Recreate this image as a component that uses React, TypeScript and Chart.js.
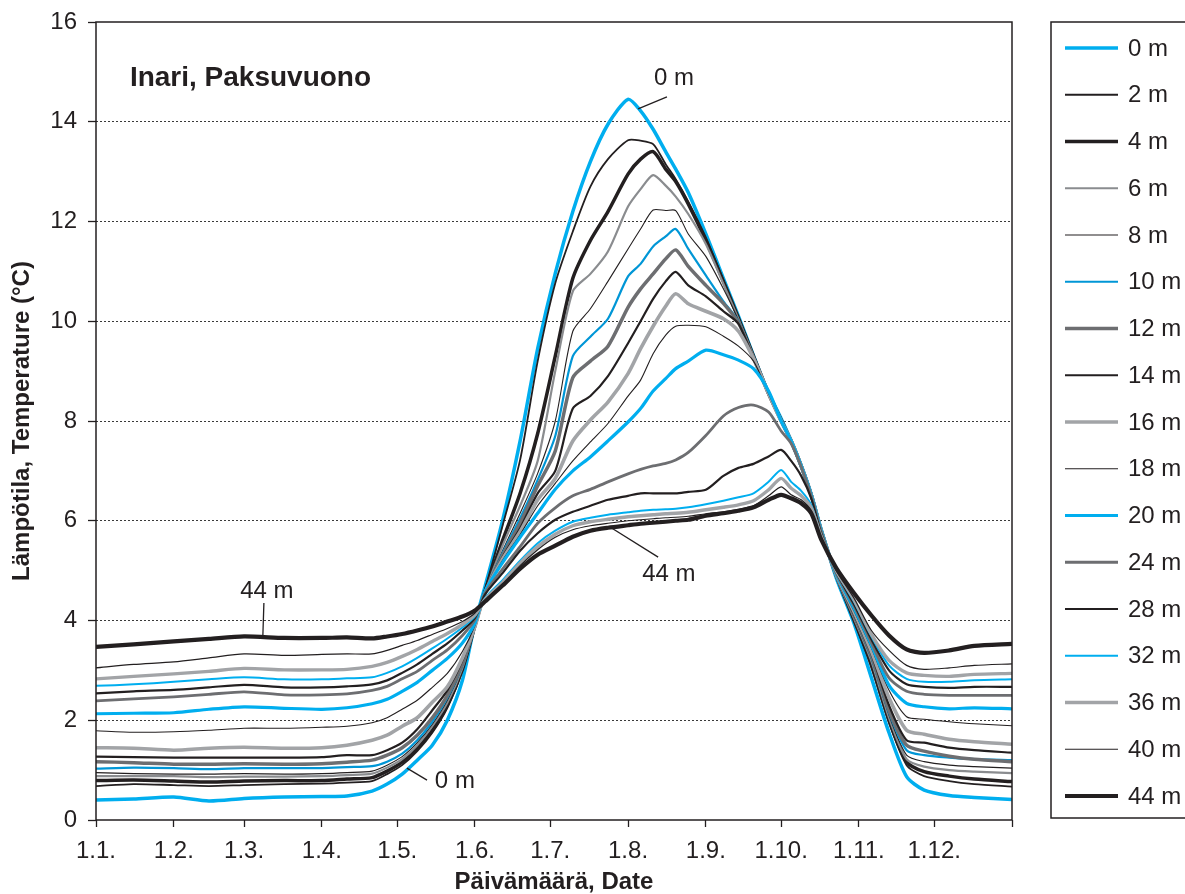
import { useEffect, useRef } from 'react';
import { Chart, registerables } from 'chart.js';

Chart.register(...registerables);

const FONT = '"Liberation Sans", Arial, Helvetica, sans-serif';
const INK = '#231F20';

// day of year (0 = 1 Jan)
const days = [0, 15, 31, 45, 59, 75, 90, 100, 110, 116, 122, 128, 134, 140, 146, 151, 155, 162, 169, 176, 183, 190, 197, 204, 212, 217, 222, 227, 231, 236, 243, 250, 256, 262, 268, 273, 277, 281, 285, 289, 295, 302, 309, 316, 323, 330, 340, 350, 365];

const monthStarts = [0, 31, 59, 90, 120, 151, 181, 212, 243, 273, 304, 334, 365];
const monthLabels = ['1.1.', '1.2.', '1.3.', '1.4.', '1.5.', '1.6.', '1.7.', '1.8.', '1.9.', '1.10.', '1.11.', '1.12.', ''];
const yTicks = [0, 2, 4, 6, 8, 10, 12, 14, 16];

const depthLabels = ['0 m', '2 m', '4 m', '6 m', '8 m', '10 m', '12 m', '14 m', '16 m', '18 m', '20 m', '24 m', '28 m', '32 m', '36 m', '40 m', '44 m'];

const t0 = [0.40, 0.42, 0.46, 0.38, 0.43, 0.46, 0.47, 0.48, 0.58, 0.72, 0.92, 1.2, 1.5, 2.0, 2.8, 3.95, 4.68, 6.0, 7.6, 9.45, 10.96, 12.2, 13.2, 13.95, 14.45, 14.22, 13.85, 13.4, 13.05, 12.58, 11.75, 10.86, 10.1, 9.31, 8.56, 8.05, 7.6, 7.1, 6.52, 5.82, 4.85, 3.95, 2.85, 1.75, 0.87, 0.6, 0.49, 0.45, 0.41];
const t2 = [0.68, 0.72, 0.70, 0.68, 0.70, 0.72, 0.73, 0.75, 0.78, 0.92, 1.1, 1.38, 1.75, 2.25, 3.0, 3.9, 4.62, 5.9, 7.22, 9.2, 10.76, 11.8, 12.7, 13.25, 13.63, 13.62, 13.55, 13.15, 12.85, 12.4, 11.68, 10.82, 10.08, 9.3, 8.55, 8.03, 7.6, 7.1, 6.52, 5.8, 4.88, 4.0, 3.05, 1.95, 1.1, 0.88, 0.78, 0.72, 0.67];
const t4 = [0.79, 0.80, 0.78, 0.76, 0.78, 0.79, 0.79, 0.82, 0.85, 0.98, 1.16, 1.44, 1.8, 2.3, 3.02, 3.9, 4.58, 5.6, 6.55, 7.75, 9.3, 10.86, 11.62, 12.2, 12.95, 13.25, 13.4, 13.05, 12.8, 12.35, 11.62, 10.8, 10.06, 9.3, 8.55, 8.02, 7.6, 7.1, 6.52, 5.8, 4.9, 4.02, 3.12, 2.0, 1.17, 0.97, 0.88, 0.82, 0.77];
const t6 = [0.88, 0.88, 0.88, 0.86, 0.87, 0.87, 0.88, 0.90, 0.93, 1.05, 1.22, 1.5, 1.88, 2.35, 3.05, 3.9, 4.56, 5.5, 6.3, 7.2, 9.0, 10.6, 10.95, 11.4, 12.3, 12.65, 12.93, 12.72, 12.5, 12.15, 11.55, 10.75, 10.04, 9.3, 8.55, 8.02, 7.6, 7.1, 6.52, 5.8, 4.88, 4.05, 3.18, 2.05, 1.22, 1.07, 1.0, 0.97, 0.94];
const t8 = [0.95, 0.93, 0.92, 0.92, 0.93, 0.92, 0.93, 0.95, 0.98, 1.1, 1.27, 1.55, 1.92, 2.4, 3.08, 3.9, 4.55, 5.4, 6.15, 6.95, 8.0, 9.8, 10.25, 10.8, 11.45, 11.85, 12.23, 12.22, 12.22, 11.75, 11.3, 10.65, 10.02, 9.28, 8.55, 8.0, 7.6, 7.1, 6.52, 5.8, 4.9, 4.07, 3.22, 2.1, 1.3, 1.17, 1.1, 1.07, 1.04];
const t10 = [1.03, 1.05, 1.04, 1.02, 1.04, 1.04, 1.04, 1.06, 1.08, 1.17, 1.33, 1.6, 1.97, 2.45, 3.1, 3.9, 4.55, 5.35, 6.05, 6.82, 7.7, 9.3, 9.69, 10.05, 10.9, 11.15, 11.5, 11.7, 11.85, 11.45, 10.92, 10.4, 10.0, 9.27, 8.55, 8.0, 7.6, 7.1, 6.52, 5.8, 4.88, 4.1, 3.25, 2.15, 1.4, 1.3, 1.25, 1.22, 1.2];
const t12 = [1.17, 1.15, 1.12, 1.12, 1.13, 1.12, 1.13, 1.16, 1.2, 1.3, 1.45, 1.7, 2.05, 2.5, 3.13, 3.9, 4.54, 5.3, 5.95, 6.7, 7.4, 8.87, 9.2, 9.5, 10.28, 10.65, 10.95, 11.25, 11.43, 11.1, 10.72, 10.36, 9.97, 9.26, 8.55, 8.0, 7.6, 7.1, 6.52, 5.8, 4.9, 4.12, 3.3, 2.2, 1.5, 1.38, 1.28, 1.22, 1.17];
const t14 = [1.27, 1.26, 1.25, 1.25, 1.25, 1.25, 1.26, 1.3, 1.3, 1.4, 1.55, 1.82, 2.2, 2.6, 3.2, 3.92, 4.54, 5.27, 5.85, 6.55, 7.0, 8.25, 8.5, 8.9, 9.56, 10.0, 10.45, 10.8, 10.99, 10.72, 10.5, 10.2, 9.95, 9.25, 8.55, 8.0, 7.6, 7.1, 6.52, 5.8, 4.9, 4.13, 3.33, 2.3, 1.6, 1.55, 1.45, 1.4, 1.35];
const t16 = [1.45, 1.44, 1.40, 1.44, 1.46, 1.44, 1.45, 1.5, 1.6, 1.7, 1.88, 2.05, 2.36, 2.67, 3.25, 3.88, 4.55, 5.23, 5.78, 6.42, 6.85, 7.6, 8.02, 8.38, 8.95, 9.45, 9.9, 10.3, 10.55, 10.35, 10.2, 10.05, 9.8, 9.25, 8.55, 8.0, 7.6, 7.1, 6.52, 5.8, 4.92, 4.18, 3.38, 2.45, 1.8, 1.72, 1.62, 1.57, 1.52];
const t18 = [1.79, 1.76, 1.77, 1.80, 1.84, 1.84, 1.86, 1.88, 1.95, 2.05, 2.22, 2.4, 2.66, 2.94, 3.38, 3.9, 4.56, 5.2, 5.72, 6.3, 6.75, 7.2, 7.58, 7.95, 8.5, 8.82, 9.35, 9.72, 9.9, 9.92, 9.89, 9.7, 9.5, 9.2, 8.55, 8.0, 7.6, 7.1, 6.52, 5.8, 4.92, 4.2, 3.45, 2.6, 2.07, 2.02, 1.97, 1.93, 1.89];
const t20 = [2.13, 2.14, 2.15, 2.22, 2.27, 2.24, 2.22, 2.25, 2.33, 2.42, 2.58, 2.76, 3.0, 3.24, 3.55, 3.95, 4.58, 5.16, 5.67, 6.15, 6.63, 7.0, 7.28, 7.6, 7.98, 8.25, 8.6, 8.85, 9.05, 9.2, 9.42, 9.33, 9.22, 9.05, 8.6, 8.0, 7.6, 7.1, 6.52, 5.8, 4.93, 4.25, 3.5, 2.7, 2.34, 2.27, 2.23, 2.25, 2.23];
const t24 = [2.39, 2.43, 2.47, 2.52, 2.57, 2.51, 2.51, 2.53, 2.6, 2.68, 2.83, 2.98, 3.2, 3.41, 3.7, 4.02, 4.55, 5.03, 5.48, 5.95, 6.26, 6.5, 6.63, 6.78, 6.94, 7.03, 7.1, 7.15, 7.22, 7.37, 7.71, 8.1, 8.27, 8.32, 8.18, 7.8, 7.55, 7.08, 6.5, 5.78, 4.95, 4.3, 3.55, 2.85, 2.58, 2.52, 2.5, 2.5, 2.5];
const t28 = [2.54, 2.58, 2.61, 2.66, 2.71, 2.66, 2.66, 2.68, 2.72, 2.8, 2.95, 3.12, 3.33, 3.54, 3.8, 4.05, 4.52, 4.95, 5.4, 5.75, 6.02, 6.18, 6.3, 6.42, 6.5, 6.55, 6.55, 6.55, 6.55, 6.58, 6.62, 6.9, 7.06, 7.14, 7.29, 7.42, 7.2, 6.9, 6.45, 5.74, 4.97, 4.33, 3.62, 3.0, 2.72, 2.67, 2.65, 2.67, 2.67];
const t32 = [2.69, 2.72, 2.77, 2.82, 2.86, 2.82, 2.82, 2.84, 2.86, 2.95, 3.08, 3.25, 3.44, 3.64, 3.86, 4.08, 4.45, 4.81, 5.2, 5.55, 5.8, 5.98, 6.06, 6.12, 6.17, 6.2, 6.22, 6.23, 6.24, 6.27, 6.33, 6.4, 6.47, 6.55, 6.78, 7.02, 6.78, 6.6, 6.32, 5.7, 4.98, 4.38, 3.68, 3.1, 2.83, 2.77, 2.77, 2.8, 2.82];
const t36 = [2.83, 2.88, 2.93, 2.98, 3.04, 3.01, 3.01, 3.02, 3.08, 3.16, 3.28, 3.42, 3.58, 3.74, 3.92, 4.12, 4.42, 4.76, 5.15, 5.48, 5.73, 5.9, 5.98, 6.03, 6.08, 6.1, 6.12, 6.14, 6.15, 6.17, 6.22, 6.27, 6.32, 6.4, 6.62, 6.85, 6.65, 6.5, 6.26, 5.68, 5.0, 4.42, 3.72, 3.2, 2.95, 2.9, 2.88, 2.92, 2.94];
const t40 = [3.05, 3.12, 3.17, 3.25, 3.33, 3.30, 3.32, 3.33, 3.33, 3.4, 3.5, 3.6, 3.72, 3.84, 3.98, 4.15, 4.4, 4.72, 5.1, 5.42, 5.67, 5.82, 5.9, 5.95, 6.0, 6.02, 6.04, 6.06, 6.07, 6.09, 6.14, 6.18, 6.23, 6.3, 6.5, 6.68, 6.52, 6.42, 6.2, 5.66, 5.0, 4.45, 3.8, 3.4, 3.1, 3.02, 3.05, 3.1, 3.13];
const t44 = [3.47, 3.52, 3.58, 3.63, 3.68, 3.65, 3.65, 3.66, 3.64, 3.68, 3.73, 3.8, 3.88, 3.98, 4.08, 4.2, 4.38, 4.7, 5.04, 5.32, 5.5, 5.68, 5.8, 5.86, 5.91, 5.94, 5.96, 5.98, 6.0, 6.02, 6.1, 6.15, 6.2, 6.27, 6.42, 6.52, 6.45, 6.35, 6.15, 5.62, 5.05, 4.55, 4.1, 3.7, 3.42, 3.35, 3.4, 3.49, 3.53];

const seriesValues = [t0, t2, t4, t6, t8, t10, t12, t14, t16, t18, t20, t24, t28, t32, t36, t40, t44];

const CYAN = '#00AEEF';
const BLUE = '#0096D6';
const GRAY_MID = '#8A8C8F';
const GRAY_DARK = '#6D6E71';
const GRAY_LIGHT = '#A2A4A7';

const lineColors = [CYAN, INK, INK, GRAY_MID, INK, BLUE, GRAY_DARK, INK, GRAY_LIGHT, INK, CYAN, GRAY_DARK, INK, CYAN, GRAY_LIGHT, INK, INK];
const lineWidths = [3.5, 1.8, 3.5, 2.2, 1.1, 2.2, 3.5, 2.2, 3.6, 1.1, 3.2, 2.8, 2.2, 2.0, 3.4, 1.2, 4.2];

const chartTitle = 'Inari, Paksuvuono';
const titleAt = [13.5, 14.88];
const xTitle = 'Päivämäärä, Date';
const yTitle = 'Lämpötila, Temperature (°C)';

// annotation labels (day, °C) and their leader lines
const noteTexts = ['0 m', '0 m', '44 m', '44 m'];
const noteAt = [[230.3, 14.86], [143.0, 0.78], [68.1, 4.59], [228.3, 4.93]];
const noteLeaders = [
  [[216.0, 14.26], [227.5, 14.5]],
  [[123.9, 1.04], [131.9, 0.8]],
  [[66.9, 4.35], [66.5, 3.71]],
  [[205.6, 5.85], [224.0, 5.27]],
];

const decorPlugin = {
  id: 'decor',
  afterDraw(chart: any) {
    const { ctx, chartArea: a, scales } = chart;
    const xs = scales.x;
    const ys = scales.y;
    ctx.save();
    // plot frame
    ctx.strokeStyle = INK;
    ctx.lineWidth = 1.5;
    ctx.strokeRect(a.left, a.top, a.right - a.left, a.bottom - a.top);

    // title inside plot
    ctx.fillStyle = INK;
    ctx.font = `bold 28px ${FONT}`;
    ctx.textAlign = 'left';
    ctx.textBaseline = 'middle';
    ctx.fillText(chartTitle, xs.getPixelForValue(titleAt[0]), ys.getPixelForValue(titleAt[1]));

    // annotations
    ctx.font = `24px ${FONT}`;
    ctx.textAlign = 'center';
    noteTexts.forEach((t, i) => {
      ctx.fillText(t, xs.getPixelForValue(noteAt[i][0]), ys.getPixelForValue(noteAt[i][1]));
    });
    ctx.lineWidth = 1.3;
    noteLeaders.forEach(([p, q]) => {
      ctx.beginPath();
      ctx.moveTo(xs.getPixelForValue(p[0]), ys.getPixelForValue(p[1]));
      ctx.lineTo(xs.getPixelForValue(q[0]), ys.getPixelForValue(q[1]));
      ctx.stroke();
    });

    // legend box
    const lx = a.right + 39;
    ctx.lineWidth = 1.5;
    ctx.strokeStyle = INK;
    ctx.strokeRect(lx, a.top, chart.width - lx + 20, a.bottom - 2 - a.top);
    ctx.font = `24px ${FONT}`;
    ctx.textAlign = 'left';
    const step = (a.bottom - a.top - 50) / (depthLabels.length - 1);
    depthLabels.forEach((lab, i) => {
      const y = a.top + 26 + i * step;
      ctx.beginPath();
      ctx.strokeStyle = lineColors[i];
      ctx.lineWidth = lineWidths[i];
      ctx.moveTo(lx + 14, y);
      ctx.lineTo(lx + 67, y);
      ctx.stroke();
      ctx.fillStyle = INK;
      ctx.fillText(lab, lx + 77, y + 1);
    });
    ctx.restore();
  },
};

export default function App() {
  const ref = useRef<HTMLCanvasElement | null>(null);

  useEffect(() => {
    if (!ref.current) return;
    const datasets = seriesValues.map((vals, i) => ({
      label: depthLabels[i],
      data: vals.map((v, k) => ({ x: days[k], y: v })),
      borderColor: lineColors[i],
      backgroundColor: lineColors[i],
      borderWidth: lineWidths[i],
      pointRadius: 0,
      tension: 0.25,
      fill: false,
      borderJoinStyle: 'round' as const,
      order: seriesValues.length - i,
    }));

    const chart = new Chart(ref.current, {
      type: 'line',
      data: { datasets },
      options: {
        animation: false,
        responsive: false,
        devicePixelRatio: 1,
        parsing: false as any,
        layout: { padding: { top: 22, right: 173, left: 0, bottom: 0 } },
        plugins: {
          legend: { display: false },
          tooltip: { enabled: false },
        },
        scales: {
          x: {
            type: 'linear',
            min: 0,
            max: 365,
            afterBuildTicks: (scale: any) => {
              scale.ticks = monthStarts.map((v) => ({ value: v }));
            },
            afterFit: (scale: any) => {
              scale.height = 74;
              scale.paddingLeft = 0;
              scale.paddingRight = 0;
            },
            ticks: {
              autoSkip: false,
              maxRotation: 0,
              minRotation: 0,
              padding: 10,
              color: INK,
              font: { family: FONT, size: 24 },
              callback: (value: any) => {
                const idx = monthStarts.indexOf(Number(value));
                return idx >= 0 ? monthLabels[idx] : '';
              },
            },
            grid: {
              drawOnChartArea: false,
              drawTicks: true,
              tickLength: 7,
              tickColor: INK,
              tickWidth: 1.3,
            },
            border: { display: false },
            title: {
              display: true,
              text: xTitle,
              color: INK,
              font: { family: FONT, size: 24, weight: 'bold', lineHeight: 1 },
              padding: { top: 0, bottom: 0 },
            },
          },
          y: {
            type: 'linear',
            min: 0,
            max: 16,
            afterBuildTicks: (scale: any) => {
              scale.ticks = yTicks.map((v) => ({ value: v }));
            },
            afterFit: (scale: any) => {
              scale.width = 96;
              scale.paddingTop = 0;
              scale.paddingBottom = 0;
            },
            ticks: {
              padding: 11,
              color: INK,
              font: { family: FONT, size: 24 },
            },
            grid: {
              drawOnChartArea: true,
              drawTicks: true,
              tickLength: 8,
              tickColor: INK,
              tickWidth: 1.3,
              lineWidth: 1,
              color: (c: any) => (c.tick && (c.tick.value === 0 || c.tick.value === 16) ? 'rgba(0,0,0,0)' : '#3a3a3a'),
            },
            border: { display: false, dash: [2, 2] },
            title: {
              display: true,
              text: yTitle,
              color: INK,
              font: { family: FONT, size: 24, weight: 'bold', lineHeight: 1 },
              padding: { top: 10, bottom: 0 },
            },
          },
        },
      },
      plugins: [decorPlugin],
    });
    return () => chart.destroy();
  }, []);

  return (
    <div style={{ position: 'absolute', left: 0, top: 0, width: 1185, height: 894, background: '#fff' }}>
      <canvas ref={ref} width={1185} height={894} style={{ width: 1185, height: 894, display: 'block' }} />
    </div>
  );
}
